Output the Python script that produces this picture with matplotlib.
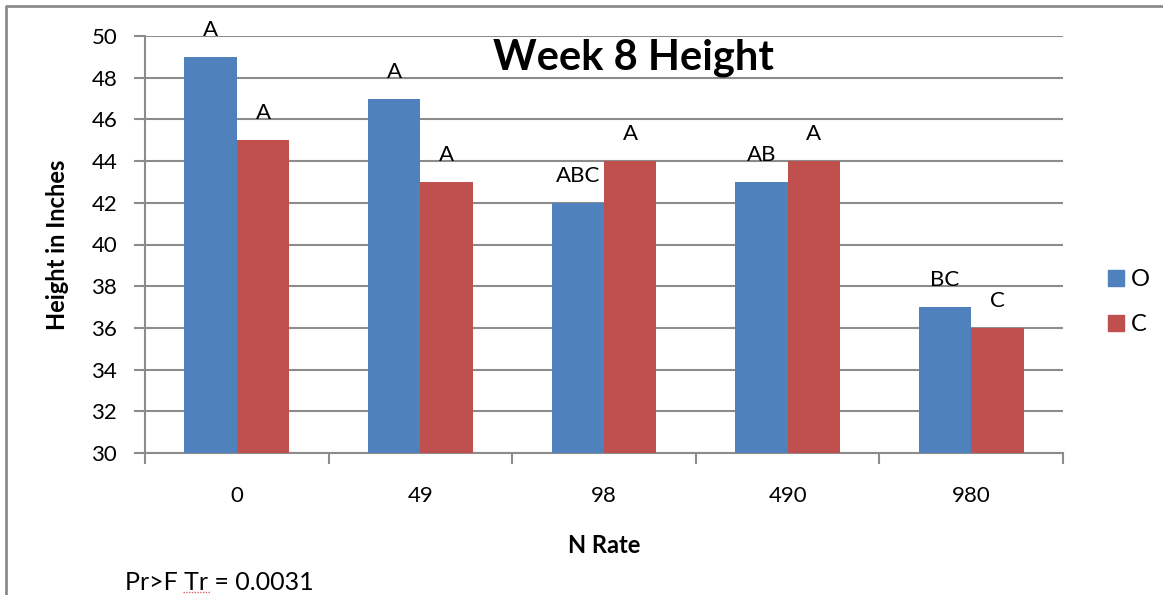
import matplotlib
matplotlib.use("Agg")
import matplotlib.pyplot as plt
import numpy as np
from matplotlib.lines import Line2D

plt.rcParams['font.family'] = ['Lato', 'DejaVu Sans']

# -- data
n_rates = ['0', '49', '98', '490', '980']
height_o = [49, 47, 42, 43, 37]
height_c = [45, 43, 44, 44, 36]
letters_o = ['A', 'A', 'ABC', 'AB', 'BC']
letters_c = ['A', 'A', 'A', 'A', 'C']

col_o = '#4F81BD'
col_c = '#C0504D'
grid_col = '#8C8C8C'

fig = plt.figure(figsize=(11.63, 5.95), dpi=100)
ax = fig.add_axes([145 / 1163, 1 - 453 / 595, 918 / 1163, 417 / 595])

x = np.arange(len(n_rates))
wd = 1 / 3.5
ax.bar(x - wd / 2, [h - 30 for h in height_o], wd, bottom=30,
       color=col_o, label='O', zorder=3)
ax.bar(x + wd / 2, [h - 30 for h in height_c], wd, bottom=30,
       color=col_c, label='C', zorder=3)

# -- significance letters
for xi, h, s in zip(x - wd / 2, height_o, letters_o):
    ax.annotate(s, (xi, h), xytext=(0, 27), textcoords='offset pixels',
                ha='center', va='center', fontsize=16, annotation_clip=False)
for xi, h, s in zip(x + wd / 2, height_c, letters_c):
    ax.annotate(s, (xi, h), xytext=(0, 27), textcoords='offset pixels',
                ha='center', va='center', fontsize=16, annotation_clip=False)

# -- axes
ax.set_xlim(-0.5, len(n_rates) - 0.5)
ax.set_ylim(30, 50)
ax.set_yticks(range(30, 51, 2))
ax.set_xticks(np.arange(-0.5, len(n_rates), 1))
ax.set_xticklabels([])
ax.set_xticks(x, minor=True)
ax.set_xticklabels(n_rates, minor=True)
ax.tick_params(axis='x', which='minor', length=0, pad=24, labelsize=16)
ax.tick_params(axis='x', which='major', length=8, color=grid_col, width=1.5)
ax.tick_params(axis='y', length=8, color=grid_col, width=1.5, labelsize=16, pad=12)
ax.yaxis.grid(True, color=grid_col, linewidth=1.5, zorder=0)
ax.set_axisbelow(True)
for sp in ['top', 'right']:
    ax.spines[sp].set_visible(False)
for sp in ['left', 'bottom']:
    ax.spines[sp].set_color(grid_col)
    ax.spines[sp].set_linewidth(1.5)

ax.set_ylabel('Height in Inches', fontsize=17, fontweight='bold', labelpad=16)
ax.set_xlabel('N Rate', fontsize=17, fontweight='bold', labelpad=20)

# -- title sits on the grid
fig.text(633 / 1163, 1 - 58 / 595, 'Week 8 Height', fontsize=30,
         fontweight='bold', ha='center', va='center')

# -- legend
handles = [Line2D([], [], marker='s', linestyle='none', color=col_o, markersize=11),
           Line2D([], [], marker='s', linestyle='none', color=col_c, markersize=11)]
fig.legend(handles, ['O', 'C'], loc='center left',
           bbox_to_anchor=(1086 / 1163, 1 - 302 / 595), frameon=False,
           fontsize=17, handlelength=0.7, handletextpad=0.3, labelspacing=1.0)

# -- footnote
fig.text(125 / 1163, 1 - 583 / 595, 'Pr>F Tr = 0.0031', fontsize=18,
         ha='left', va='center')
# spell-check underline under "Tr"
fig.add_artist(Line2D([183 / 1163, 210 / 1163], [1 - 592 / 595, 1 - 592 / 595],
                      transform=fig.transFigure, color='#E06060', linewidth=1,
                      linestyle=(0, (1, 1))))

# -- outer chart border (top and left visible)
fig.add_artist(Line2D([6 / 1163, 6 / 1163, 1.0], [0.0, 1 - 6 / 595, 1 - 6 / 595],
                      transform=fig.transFigure, color=grid_col, linewidth=2))

plt.savefig('out.png', dpi=100)
plt.close()
